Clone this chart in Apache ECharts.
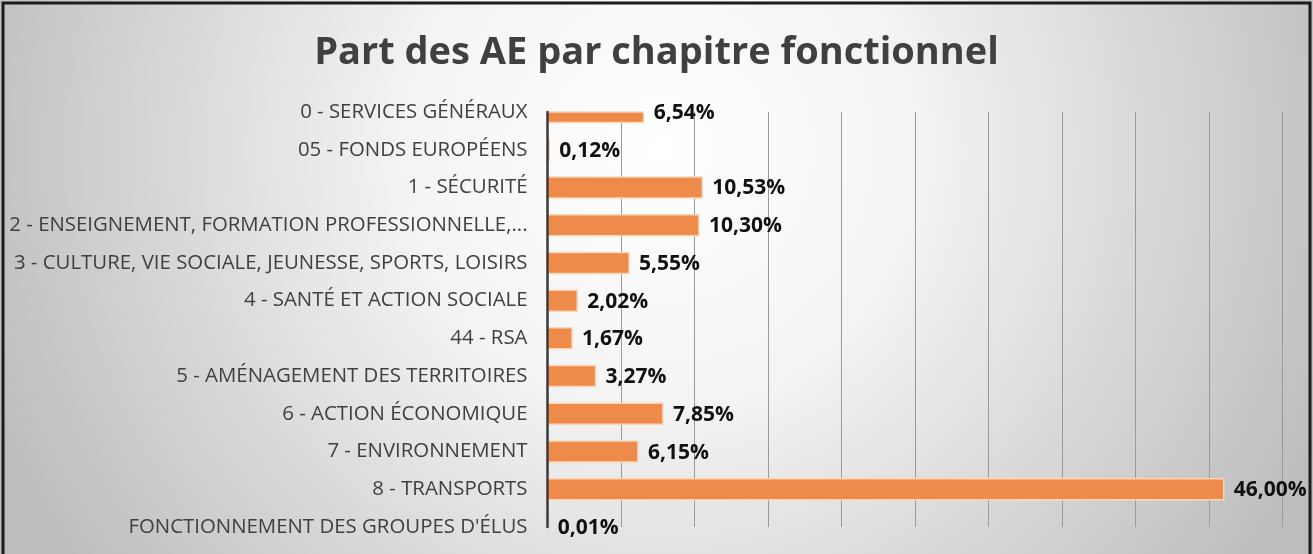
<!DOCTYPE html>
<html>
<head>
<meta charset="utf-8">
<script src="https://cdn.jsdelivr.net/npm/echarts@6/dist/echarts.min.js"></script>
<style>
  html, body { margin: 0; padding: 0; }
  #main { width: 1313px; height: 554px; }
</style>
</head>
<body>
<div id="main"></div>
<script>
// chapitres fonctionnels, dans l'ordre du graphique (haut -> bas)
var chapitres = [
    '0 - SERVICES GÉNÉRAUX',
    '05 - FONDS EUROPÉENS',
    '1 - SÉCURITÉ',
    '2 - ENSEIGNEMENT, FORMATION PROFESSIONNELLE,...',
    '3 - CULTURE, VIE SOCIALE, JEUNESSE, SPORTS, LOISIRS',
    '4 - SANTÉ ET ACTION SOCIALE',
    '44 - RSA',
    '5 - AMÉNAGEMENT DES TERRITOIRES',
    '6 - ACTION ÉCONOMIQUE',
    '7 - ENVIRONNEMENT',
    '8 - TRANSPORTS',
    "FONCTIONNEMENT DES GROUPES D'ÉLUS"
];
// part des AE en %
var partAE = [6.54, 0.12, 10.53, 10.30, 5.55, 2.02, 1.67, 3.27, 7.85, 6.15, 46.00, 0.01];

var targetElement = document.getElementById('main');
var chart = echarts.init(targetElement);

var BAR_H = 21;

function pct(v) {
    return v.toFixed(2).replace('.', ',') + '%';
}

// barres dessinées via les axes, coupées au bord de la zone de tracé (comme dans Excel)
function renderBar(params, api) {
    var idx = api.value(1);
    var val = api.value(0);
    var start = api.coord([0, idx]);
    var end = api.coord([val, idx]);
    var rect = echarts.graphic.clipRectByRect({
        x: start[0],
        y: start[1] - BAR_H / 2,
        width: end[0] - start[0],
        height: BAR_H
    }, params.coordSys);
    var children = [];
    if (rect) {
        children.push({
            type: 'rect',
            shape: rect,
            style: { fill: '#ee8a4a', stroke: '#f9d6b8', lineWidth: 1.5 }
        });
    }
    children.push({
        type: 'text',
        x: end[0] + 10,
        y: start[1] + 1,
        style: {
            text: pct(val),
            fill: '#111111',
            fontFamily: 'Open Sans',
            fontWeight: 'bold',
            fontSize: 21,
            verticalAlign: 'middle',
            align: 'left'
        }
    });
    return { type: 'group', children: children };
}

var option = {
    animation: false,
    graphic: [
        {
            type: 'rect',
            z: -10,
            shape: { x: 0, y: 0, width: 1313, height: 554 },
            style: {
                fill: {
                    type: 'radial', x: 660, y: 150, r: 720, global: true,
                    colorStops: [
                        { offset: 0, color: '#ffffff' },
                        { offset: 0.35, color: '#f4f4f4' },
                        { offset: 1, color: '#bdbdbd' }
                    ]
                },
                stroke: null
            }
        },
        {
            type: 'rect',
            z: 100,
            shape: { x: 3, y: 3, width: 1307, height: 560 },
            style: { fill: null, stroke: '#1c1c1c', lineWidth: 3 }
        }
    ],
    title: {
        text: 'Part des AE par chapitre fonctionnel',
        left: 'center',
        top: 29,
        textStyle: {
            fontFamily: 'Open Sans',
            fontWeight: 'bold',
            fontSize: 38,
            color: '#404040'
        }
    },
    grid: {
        left: 547.5,
        right: 30.5,
        top: 112,
        bottom: 27,
        outerBoundsMode: 'none',
        containLabel: false
    },
    xAxis: {
        type: 'value',
        min: 0,
        max: 50,
        interval: 5,
        axisLabel: { show: false },
        axisLine: { show: false },
        axisTick: { show: false },
        splitLine: { lineStyle: { color: '#9a9a9a', width: 1 } }
    },
    yAxis: {
        type: 'category',
        data: chapitres,
        inverse: true,
        boundaryGap: false,
        axisTick: { show: false },
        axisLine: { lineStyle: { color: '#3a3a3a', width: 2.5 } },
        axisLabel: {
            margin: 20,
            fontFamily: 'Open Sans',
            fontSize: 20.4,
            color: '#404040'
        },
        z: 5
    },
    series: [{
        type: 'custom',
        data: partAE.map(function (v, i) { return [v, i]; }),
        encode: { x: 0, y: 1 },
        renderItem: renderBar
    }]
};

chart.setOption(option);
</script>
</body>
</html>
